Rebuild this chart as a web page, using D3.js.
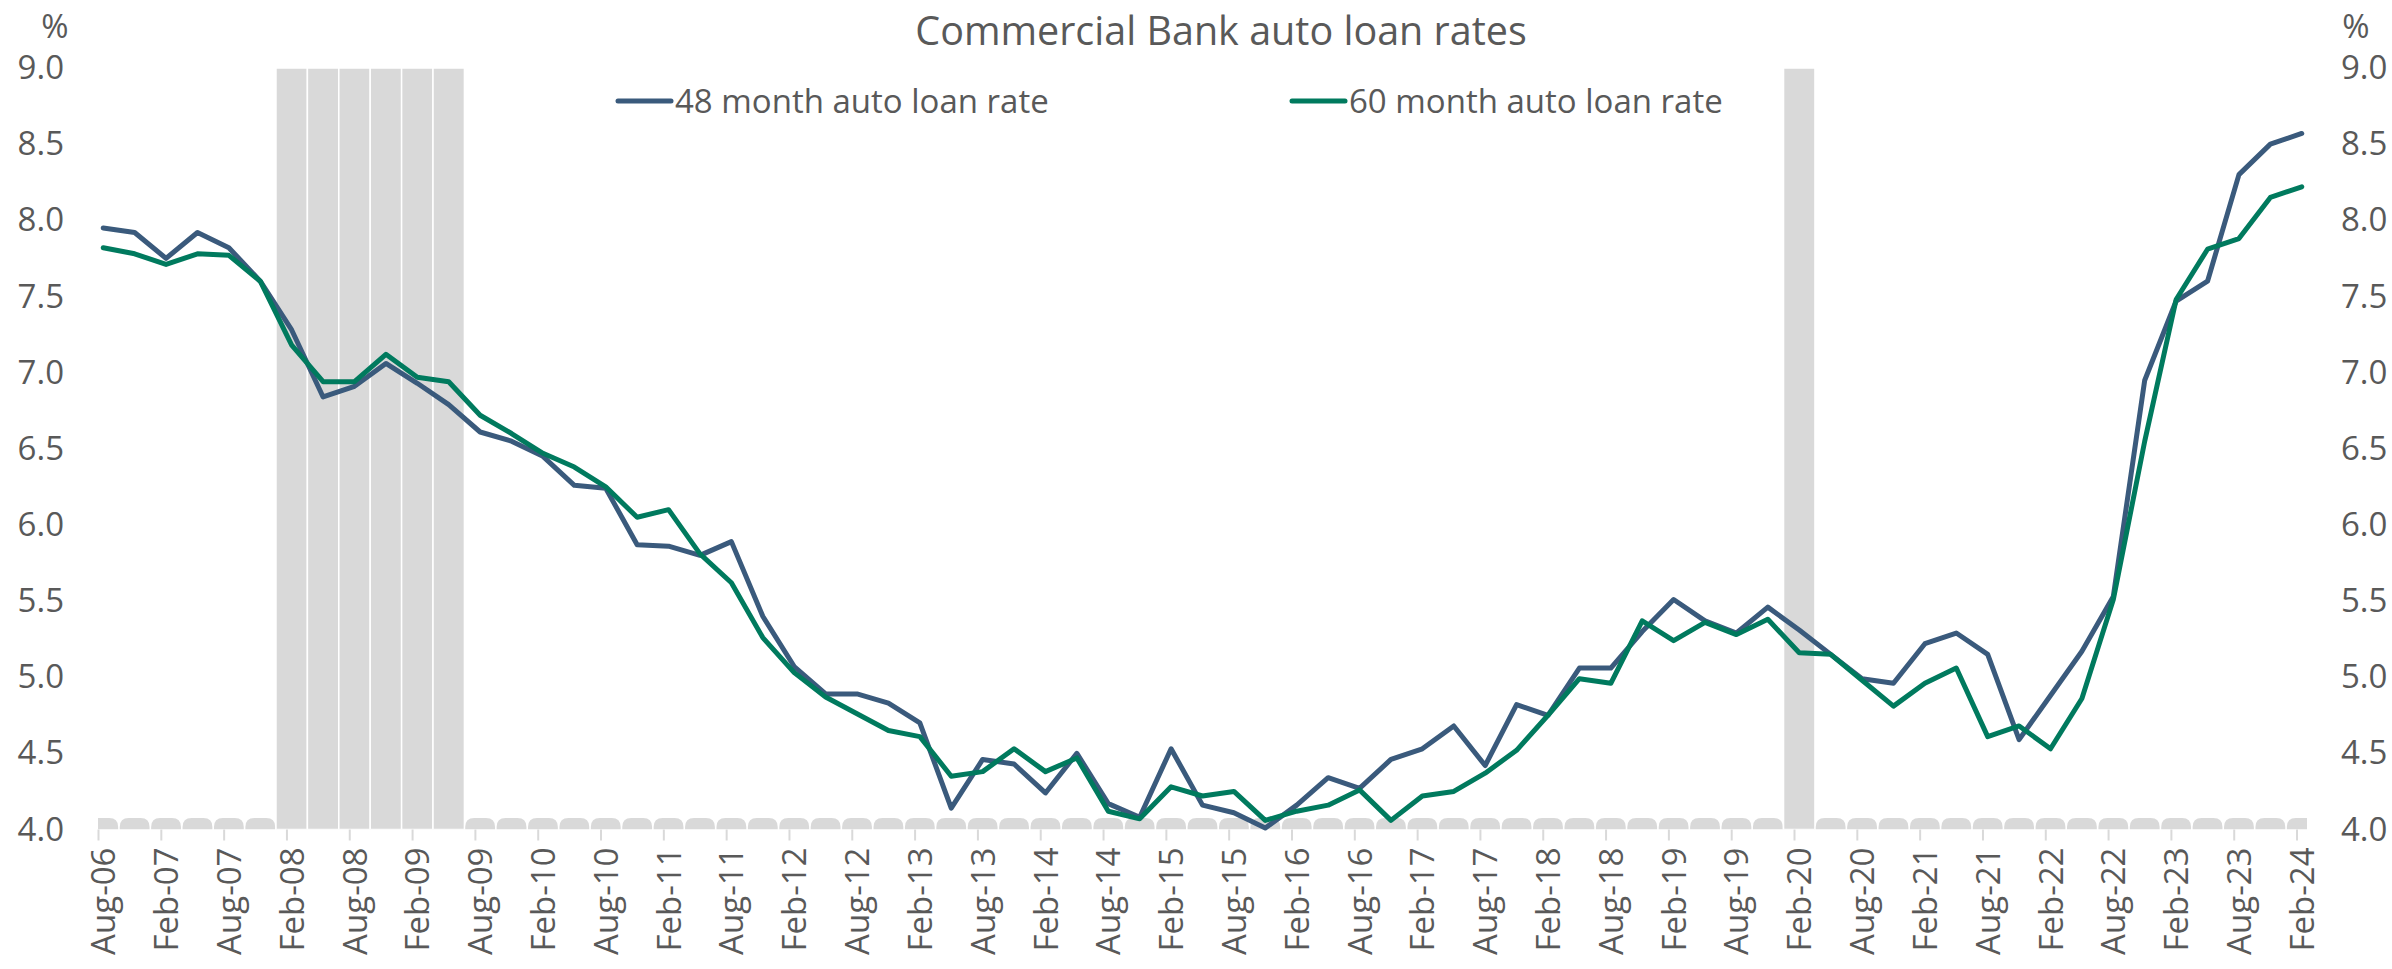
<!DOCTYPE html>
<html><head><meta charset="utf-8">
<script src="https://cdn.jsdelivr.net/npm/d3@7"></script>
<style>
body{margin:0;background:#fff}
text{font-family:"Open Sans",sans-serif;fill:#595959}
</style>
</head><body>
<svg id="chart" width="2392" height="969"></svg>
<script>
// ---- data (quarterly) ----
const quarters = ["Aug-06","Nov-06","Feb-07","May-07","Aug-07","Nov-07","Feb-08","May-08","Aug-08","Nov-08",
"Feb-09","May-09","Aug-09","Nov-09","Feb-10","May-10","Aug-10","Nov-10","Feb-11","May-11",
"Aug-11","Nov-11","Feb-12","May-12","Aug-12","Nov-12","Feb-13","May-13","Aug-13","Nov-13",
"Feb-14","May-14","Aug-14","Nov-14","Feb-15","May-15","Aug-15","Nov-15","Feb-16","May-16",
"Aug-16","Nov-16","Feb-17","May-17","Aug-17","Nov-17","Feb-18","May-18","Aug-18","Nov-18",
"Feb-19","May-19","Aug-19","Nov-19","Feb-20","May-20","Aug-20","Nov-20","Feb-21","May-21",
"Aug-21","Nov-21","Feb-22","May-22","Aug-22","Nov-22","Feb-23","May-23","Aug-23","Nov-23","Feb-24"];
const rate48 = [7.95,7.92,7.75,7.92,7.82,7.60,7.28,6.84,6.91,7.06,
6.93,6.79,6.61,6.55,6.45,6.26,6.24,5.87,5.86,5.80,
5.89,5.40,5.07,4.89,4.89,4.83,4.70,4.14,4.46,4.43,
4.24,4.50,4.17,4.08,4.53,4.16,4.11,4.01,4.16,4.34,
4.27,4.46,4.53,4.68,4.42,4.82,4.75,5.06,5.06,5.30,
5.51,5.37,5.29,5.46,5.31,5.15,4.99,4.96,5.22,5.29,
5.15,4.59,4.88,5.17,5.53,6.95,7.47,7.60,8.30,8.50,8.57];
const rate60 = [7.82,7.78,7.71,7.78,7.77,7.60,7.18,6.94,6.94,7.12,
6.97,6.94,6.72,6.60,6.47,6.38,6.25,6.05,6.10,5.81,
5.62,5.26,5.03,4.87,4.76,4.65,4.61,4.35,4.38,4.53,
4.38,4.47,4.12,4.07,4.28,4.22,4.25,4.06,4.12,4.16,
4.26,4.06,4.22,4.25,4.37,4.52,4.75,4.99,4.96,5.37,
5.24,5.36,5.28,5.38,5.16,5.15,4.98,4.81,4.96,5.06,
4.61,4.68,4.53,4.86,5.51,6.55,7.48,7.81,7.88,8.15,8.22];
const recession = ["Feb-08","May-08","Aug-08","Nov-08","Feb-09","May-09","Feb-20"];
const yTicks = [4.0,4.5,5.0,5.5,6.0,6.5,7.0,7.5,8.0,8.5,9.0];
const seriesNames = ["48 month auto loan rate","60 month auto loan rate"];
const colors = ["#3A5A7C","#007A5E"];

// ---- helpers ----
const monNames = ["Jan","Feb","Mar","Apr","May","Jun","Jul","Aug","Sep","Oct","Nov","Dec"];
const monthIndex = s => { const [m,y] = s.split("-"); return (+y-6)*12 + monNames.indexOf(m) - 7; };
const nMonths = monthIndex(quarters[quarters.length-1]) + 1;

const svg = d3.select("#chart");
const L = 98, R = 2307, T = 68, B = 829.5;
const x = d3.scaleLinear().domain([0, nMonths]).range([L, R]);
const y = d3.scaleLinear().domain([4, 9]).range([B, T]);
const xm = s => x(monthIndex(s) + 0.5);

svg.append("clipPath").attr("id","plot").append("rect")
  .attr("x",L).attr("y",T-5).attr("width",R-L).attr("height",B-T+5);

// recession bars & baseline pills
const g = svg.append("g").attr("clip-path","url(#plot)");
const recSet = new Set(recession);
quarters.forEach(q => {
  const x0 = x(monthIndex(q) - 1), x1 = x(monthIndex(q) + 2);
  if (recSet.has(q)) {
    g.append("rect").attr("x",x0).attr("y",y(9)).attr("width",x1-x0).attr("height",y(4)-y(9))
      .attr("fill","#D9D9D9").attr("stroke","#fff").attr("stroke-width",1.5);
  } else {
    const a = x0+0.8, b = x1-0.8, top = y(4)-11.5, bot = y(4), r = 9;
    g.append("path").attr("fill","#D9D9D9")
      .attr("d",`M${a},${bot}V${top+r}Q${a},${top} ${a+r},${top}H${b-r}Q${b},${top} ${b},${top+r}V${bot}Z`);
  }
});

// x axis
const tickMonths = quarters.filter((q,i)=>i%2===0).map(monthIndex);
const xAxis = svg.append("g").attr("transform",`translate(0,${B})`)
  .call(d3.axisBottom(x).tickValues(tickMonths).tickSize(11).tickSizeOuter(0)
    .tickFormat(m => quarters[m/3]));
xAxis.select(".domain").remove();
xAxis.selectAll(".tick line").attr("stroke","#D9D9D9").attr("stroke-width",2);
const halfM = (x(1)-x(0))/2;
xAxis.selectAll(".tick text")
  .attr("transform",`translate(${halfM},18) rotate(-90)`)
  .attr("x",0).attr("y",0).attr("dy","0.35em")
  .attr("text-anchor","end").style("font-size","33px").attr("fill","#595959");

// y axes
function yAxis(gen, xpos){
  const a = svg.append("g").attr("transform",`translate(${xpos},0)`)
    .call(gen(y).tickValues(yTicks).tickSize(0).tickPadding(34).tickFormat(d3.format(".1f")));
  a.select(".domain").remove();
  a.selectAll("text").style("font-size","33px").attr("fill","#595959");
}
yAxis(d3.axisLeft, L);
yAxis(d3.axisRight, R);
svg.append("text").attr("x",55).attr("y",26).attr("dy","0.35em").attr("text-anchor","middle").style("font-size","33px").text("%");
svg.append("text").attr("x",2356).attr("y",26).attr("dy","0.35em").attr("text-anchor","middle").style("font-size","33px").text("%");

// lines
const line = d3.line().x((d,i)=>xm(quarters[i])).y(d=>y(d));
[rate48, rate60].forEach((s,k)=>{
  svg.append("path").attr("d",line(s)).attr("fill","none").attr("stroke",colors[k])
    .attr("stroke-width",5).attr("stroke-linejoin","round").attr("stroke-linecap","round");
});

// title
svg.append("text").attr("x",1221).attr("y",31).attr("dy","0.35em").attr("text-anchor","middle")
  .style("font-size","39.5px").text("Commercial Bank auto loan rates");

// legend
const legX = [618, 1292];
seriesNames.forEach((n,k)=>{
  svg.append("line").attr("x1",legX[k]).attr("x2",legX[k]+53).attr("y1",101).attr("y2",101)
    .attr("stroke",colors[k]).attr("stroke-width",5).attr("stroke-linecap","round");
  svg.append("text").attr("x",legX[k]+57).attr("y",101).attr("dy","0.35em").style("font-size","33px").text(n);
});
</script>
</body></html>
